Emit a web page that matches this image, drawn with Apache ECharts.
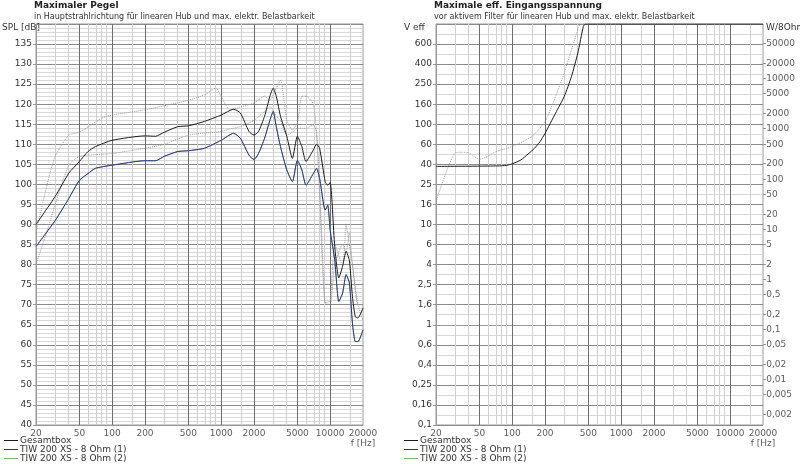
<!DOCTYPE html>
<html><head><meta charset="utf-8">
<script src="https://cdn.jsdelivr.net/npm/echarts@6/dist/echarts.min.js"></script>
<style>html,body{margin:0;padding:0;background:#fff}#c{width:800px;height:469px}</style>
</head><body><div id="c"></div>
<script>
// ---- Data: left panel (max SPL) ----
const splFreq = [20,30,40,50,60,70,100,200,250,300,400,500,700,1000,1300,1500,1800,2000,2200,2500,2800,3000,3200,3500,4000,4500,5000,5500,6000,7000,7500,8000,9000,9500,10000,11000,12000,13000,14000,15000,16000,17000,18000,20000];
const splTotal = [90,97,102.8,105.7,108.2,109.4,111,112.1,112,113,114.4,114.6,115.7,117.3,118.75,117.8,113.2,112.3,113.2,117,122,124,122,117,112,106.5,112,109.4,105.7,108.6,110,109,100.7,99.8,100.5,84.6,76.7,79.6,83.3,81,72,67,66.7,69.2];
const splDrv1 = [84.5,91,96.5,101,102.7,104,104.8,105.9,105.9,107,108.2,108.4,109,111,112.75,111.5,107.3,106.2,107.7,111.5,116,118.2,114.4,109.4,103.6,100.7,106,103.6,99.8,102.7,104,101.5,93.6,94.8,88.5,81.25,70.8,72.9,77.5,75.4,65.4,60.8,60.8,63.75];
const limFreq = [20,25,30,40,50,80,100,200,300,500,700,900,1000,1200,1500,2000,2500,2800,3200,3500,4000,4500,5000,5500,6000,7000,7500,8000,9000,10000,11000,13000,14000,15000,16000,18000,20000];
const limHigh = [88,99.4,107,112.3,113,116.5,117.3,118.6,119.6,121,122.3,124,121.9,118.6,119.3,120.3,122,121,124,126,116,113.6,115.3,122,122,120,112.7,97.7,70.5,71,85,79.6,89.8,85,80,70,70];
const limLow = [80,88,95,104.8,107,107.5,107.7,109,110,112.3,112.8,113,113.2,113.8,114.4,116,118.2,119.4,117,116,112.3,113,114,114,114,114.8,113,99.4,70.4,70,80,85,83,88,80,70,66];
// ---- Data: right panel (max input voltage) ----
const vFreq = [20,50,80,90,100,120,140,160,180,200,250,300,350,400,450,470,1000,20000];
const vTotal = [38,38.2,38.5,39,40.3,44,50.5,57.5,67,81,129,189,300,513,948,1000,1000,1000];
const vLimFreq = [20,30,35,40,45,50,60,70,100,150,200,250,300,350,400,420];
const vLim = [16.9,52,52.6,52,47.5,44.7,48,53,60,75,106,189,324,554,878,1000];
// ---- Tick labels ----
const freqTicks = [20,50,100,200,500,1000,2000,5000,10000,20000];
const freqMajor = [50,100,200,500,1000,2000,5000,10000];
const freqMinor = [30,40,60,70,80,90,150,300,400,600,700,800,900,1500,3000,4000,6000,7000,8000,9000,15000];
const voltMant = [1,1.6,2.5,4,6];
const wattTicks = [0.002,0.005,0.01,0.02,0.05,0.1,0.2,0.5,1,2,5,10,20,50,100,200,500,1000,2000,5000,10000,20000,50000];
const legendNames = ['Gesamtbox','TIW 200 XS - 8 Ohm (1)','TIW 200 XS - 8 Ohm (2)'];

const L = Math.log10;
const fmin = L(20), fmax = L(20000);
const font = 'DejaVu Sans';
const fs = 9;
const comma = n => String(n).replace('.', ',');
const pairs = (f, vs, fy) => f.map((x,i)=>[L(x), fy ? fy(vs[i]) : vs[i]]);

function gridLines(gi) {
  const md = [];
  freqMinor.forEach(f=>md.push({xAxis:L(f), lineStyle:{color:'#d0d0d0',width:1,type:'solid',opacity:1}}));
  freqMajor.forEach(f=>md.push({xAxis:L(f), lineStyle:{color:'#6e6e6e',width:1,type:'solid',opacity:1}}));
  return {type:'line', xAxisIndex:gi, yAxisIndex:gi, data:[], silent:true, z:1,
    markLine:{silent:true, symbol:'none', label:{show:false}, animation:false, emphasis:{disabled:true}, data:md}};
}
function xLabels(gi, ymin) {
  return {type:'scatter', xAxisIndex:gi, yAxisIndex:gi, symbolSize:0, silent:true, clip:false,
    data: freqTicks.map(f=>[L(f), ymin]),
    label:{show:true, position:'bottom', distance:4, fontSize:fs, fontFamily:font, color:'#333', lineHeight:10,
      formatter:p=>{const f=freqTicks[p.dataIndex]; return f===20000 ? '20000\nf [Hz]' : String(f);}}};
}
const lineS = (gi,name,data,color,dotted)=>({type:'line', name:name, xAxisIndex:gi, yAxisIndex:gi, data:data,
  showSymbol:false, symbol:'none', smooth:0.2, silent:true, z:5, animation:false,
  lineStyle:{color:color, width:1, type: dotted?'dotted':'solid'}, itemStyle:{color:color}});

const toLogV = v => L(v);
const yAxisCommon = {axisLine:{show:true, lineStyle:{color:'#999'}}, axisTick:{show:true, length:3, lineStyle:{color:'#999'}},
  axisLabel:{fontSize:fs, fontFamily:font, color:'#333', showMaxLabel:false, margin:4}};
const legendBase = {data:legendNames, orient:'vertical', top:436, height:40, itemGap:0, itemWidth:14, itemHeight:1, icon:'rect',
  textStyle:{fontSize:fs, fontFamily:font, color:'#333', padding:[0,0,0,-3]}, selectedMode:false, padding:0};

const option = {
  animation:false,
  textStyle:{fontFamily:font},
  title:[
    {text:'Maximaler Pegel', subtext:'in Hauptstrahlrichtung für linearen Hub und max. elektr. Belastbarkeit', left:34, top:1,
     textStyle:{fontSize:9, fontWeight:'bold', color:'#222'}, subtextStyle:{fontSize:8, color:'#333'}, itemGap:3, padding:0},
    {text:'Maximale eff. Eingangsspannung', subtext:'vor aktivem Filter für linearen Hub und max. elektr. Belastbarkeit', left:434, top:1,
     textStyle:{fontSize:9, fontWeight:'bold', color:'#222'}, subtextStyle:{fontSize:8, color:'#333'}, itemGap:3, padding:0}
  ],
  graphic:[
    {type:'text', left:2, top:23, style:{text:'SPL [dB]', fontSize:fs, fontFamily:font, fill:'#333'}},
    {type:'text', left:404, top:23, style:{text:'V eff', fontSize:fs, fontFamily:font, fill:'#333'}},
    {type:'text', left:766, top:23, style:{text:'W/8Ohm', fontSize:fs, fontFamily:font, fill:'#333'}}
  ],
  legend:[Object.assign({left:4}, legendBase), Object.assign({left:404}, legendBase)],
  grid:[
    {left:36, right:437, top:24, bottom:44, show:true, borderColor:'#999', borderWidth:1},
    {left:436, right:37, top:24, bottom:44, show:true, borderColor:'#999', borderWidth:1}
  ],
  xAxis:[
    {type:'value', gridIndex:0, min:fmin, max:fmax, axisLabel:{show:false}, axisTick:{show:false}, splitLine:{show:false}, axisLine:{lineStyle:{color:'#999'}}},
    {type:'value', gridIndex:1, min:fmin, max:fmax, axisLabel:{show:false}, axisTick:{show:false}, splitLine:{show:false}, axisLine:{lineStyle:{color:'#999'}}}
  ],
  yAxis:[
    Object.assign({type:'value', gridIndex:0, min:40, max:140, interval:5,
      splitLine:{show:true, lineStyle:{color:'#8a8a8a'}}, minorTick:{show:false, splitNumber:5},
      minorSplitLine:{show:true, lineStyle:{color:'#d8d8d8'}}}, yAxisCommon),
    Object.assign({}, yAxisCommon, {type:'value', gridIndex:1, min:-1, max:3, interval:0.2,
      splitLine:{show:true, lineStyle:{color:'#8a8a8a'}}, minorTick:{show:false, splitNumber:2},
      minorSplitLine:{show:true, lineStyle:{color:'#d8d8d8'}},
      axisLabel:Object.assign({}, yAxisCommon.axisLabel, {formatter:v=>{
        const e=Math.floor(v+1e-9); const k=Math.round((v-e)*5); if(k>4) return '';
        return comma(parseFloat((voltMant[k]*Math.pow(10,e)).toPrecision(3)));}})})
  ],
  series:[
    gridLines(0), gridLines(1), xLabels(0,40), xLabels(1,-1),
    lineS(0,null,pairs(limFreq,limHigh),'#999999',true),
    lineS(0,null,pairs(limFreq,limLow),'#999999',true),
    lineS(0,legendNames[2],pairs(splFreq,splDrv1),'#7cb87c',false),
    lineS(0,legendNames[1],pairs(splFreq,splDrv1),'#2e2e8c',false),
    lineS(0,legendNames[0],pairs(splFreq,splTotal),'#1a1a1a',false),
    lineS(1,null,pairs(vLimFreq,vLim,toLogV),'#999999',true),
    lineS(1,legendNames[0],pairs(vFreq,vTotal,toLogV),'#1a1a1a',false),
    {type:'scatter', xAxisIndex:1, yAxisIndex:1, symbolSize:0, silent:true, clip:false,
     data: wattTicks.map(w=>[fmax, L(Math.sqrt(8*w))]),
     label:{show:true, position:'right', distance:0, fontSize:fs, fontFamily:font, color:'#333',
       formatter:p=>'-'+comma(wattTicks[p.dataIndex])}}
  ]
};
const chart = echarts.init(document.getElementById('c'), null, {renderer:'canvas'});
chart.setOption(option);
</script></body></html>
